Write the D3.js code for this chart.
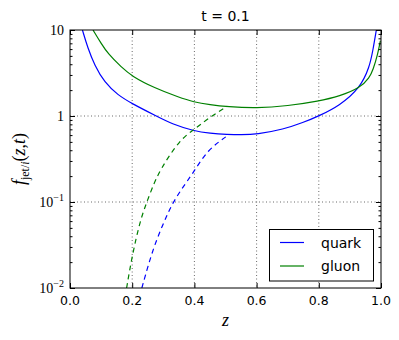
<!DOCTYPE html>
<html>
<head>
<meta charset="utf-8">
<script src="https://cdn.jsdelivr.net/npm/d3@7"></script>
<style>
  body { margin: 0; background: #fff; }
  svg { display: block; }
</style>
</head>
<body>
<svg width="399" height="340"></svg>
<script>
// values
const quarkZ = [0.040, 0.057, 0.079, 0.111, 0.154, 0.198, 0.277, 0.330, 0.398, 0.450, 0.506, 0.550, 0.600, 0.687, 0.750, 0.800, 0.867, 0.933, 0.963, 0.974, 0.985];
const quarkF = [10, 6.2, 3.9, 2.45, 1.75, 1.40, 1.0, 0.80, 0.67, 0.63, 0.61, 0.605, 0.61, 0.70, 0.84, 1.0, 1.32, 2.12, 3.7, 5.8, 10];
const gluonZ = [0.074, 0.100, 0.122, 0.165, 0.199, 0.271, 0.350, 0.398, 0.450, 0.506, 0.600, 0.700, 0.800, 0.867, 0.933, 0.963, 0.974, 0.990, 0.998];
const gluonF = [10, 7.0, 5.3, 3.7, 2.9, 2.12, 1.65, 1.45, 1.35, 1.28, 1.23, 1.31, 1.49, 1.7, 2.12, 2.8, 3.4, 5.3, 7.5];
const quarkDashZ = [0.231, 0.268, 0.307, 0.324, 0.355, 0.397, 0.441, 0.506];
const quarkDashF = [0.01, 0.030, 0.064, 0.088, 0.136, 0.22, 0.40, 0.59];
const gluonDashZ = [0.182, 0.200, 0.225, 0.241, 0.263, 0.290, 0.355, 0.398, 0.441, 0.506];
const gluonDashF = [0.01, 0.024, 0.059, 0.087, 0.143, 0.24, 0.54, 0.69, 0.92, 1.30];
const xTicks = [0, 0.2, 0.4, 0.6, 0.8, 1.0];
const yTicks = [0.01, 0.1, 1, 10];
const yTickLabels = [['10', '\u22122'], ['10', '\u22121'], ['1', ''], ['10', '']];
const series = ['quark', 'gluon'];
const COLORS = ['#0000ff', '#008000'];

const SANS = '"DejaVu Sans", sans-serif';
const SERIF = '"Liberation Serif", "DejaVu Serif", serif';
const pLeft = 70, pRight = 381, pTop = 30, pBottom = 288;
const svg = d3.select('svg');

const x = d3.scaleLinear().domain([0, 1]).range([pLeft, pRight]);
const y = d3.scaleLog().domain([0.01, 10]).range([pBottom, pTop]);

svg.append('defs').append('clipPath').attr('id', 'clip')
    .append('rect')
    .attr('x', pLeft).attr('y', pTop)
    .attr('width', pRight - pLeft).attr('height', pBottom - pTop);

// grid
const grid = svg.append('g')
    .attr('stroke', '#444')
    .attr('stroke-width', 0.8)
    .attr('stroke-dasharray', '1,2.5');
grid.selectAll('line.gx')
    .data(xTicks.slice(1, -1))
    .enter()
    .append('line')
    .attr('x1', d => x(d)).attr('x2', d => x(d))
    .attr('y1', pTop).attr('y2', pBottom);
grid.selectAll('line.gy')
    .data(yTicks.slice(1, -1))
    .enter()
    .append('line')
    .attr('x1', pLeft).attr('x2', pRight)
    .attr('y1', d => y(d)).attr('y2', d => y(d));

// curves (basis spline smooths out the reading noise)
const line = d3.line()
    .x(d => x(d[0]))
    .y(d => y(d[1]))
    .curve(d3.curveBasis);
const curves = [
    [quarkZ, quarkF, COLORS[0], null],
    [gluonZ, gluonF, COLORS[1], null],
    [quarkDashZ, quarkDashF, COLORS[0], '5,4'],
    [gluonDashZ, gluonDashF, COLORS[1], '5,4']
];
const plot = svg.append('g').attr('clip-path', 'url(#clip)');
curves.forEach(([zs, fs, color, dash]) => {
    plot.append('path')
        .attr('d', line(zs.map((z, i) => [z, fs[i]])))
        .attr('fill', 'none')
        .attr('stroke', color)
        .attr('stroke-width', 1.2)
        .attr('stroke-dasharray', dash);
});

// axes: ticks pointing inward on all four sides
const xAxisB = d3.axisTop(x).tickValues(xTicks).tickSize(5).tickFormat('');
const xAxisT = d3.axisBottom(x).tickValues(xTicks).tickSize(5).tickFormat('');
const minor = [];
[0.01, 0.1, 1].forEach(dec => {
    for (let k = 2; k <= 9; k++) minor.push(dec * k);
});
const yAxisL = d3.axisRight(y).tickValues(yTicks).tickSize(5).tickFormat('');
const yAxisR = d3.axisLeft(y).tickValues(yTicks).tickSize(5).tickFormat('');
const yMinorL = d3.axisRight(y).tickValues(minor).tickSize(2.5).tickFormat('');
const yMinorR = d3.axisLeft(y).tickValues(minor).tickSize(2.5).tickFormat('');

svg.append('g').attr('transform', `translate(0,${pBottom})`).call(xAxisB);
svg.append('g').attr('transform', `translate(0,${pTop})`).call(xAxisT);
svg.append('g').attr('transform', `translate(${pLeft},0)`).call(yAxisL);
svg.append('g').attr('transform', `translate(${pLeft},0)`).call(yMinorL);
svg.append('g').attr('transform', `translate(${pRight},0)`).call(yAxisR);
svg.append('g').attr('transform', `translate(${pRight},0)`).call(yMinorR);
svg.selectAll('.domain').remove();

svg.append('rect')
    .attr('x', pLeft).attr('y', pTop)
    .attr('width', pRight - pLeft).attr('height', pBottom - pTop)
    .attr('fill', 'none')
    .attr('stroke', '#000')
    .attr('stroke-width', 1);

// tick labels
svg.append('g').selectAll('text')
    .data(xTicks)
    .enter()
    .append('text')
    .attr('x', d => x(d))
    .attr('y', pBottom + 17)
    .attr('text-anchor', 'middle')
    .style('font-family', SANS)
    .style('font-size', '12.5px')
    .text(d => d.toFixed(1));

const yl = svg.append('g').selectAll('text')
    .data(yTicks)
    .enter()
    .append('text')
    .attr('x', 64)
    .attr('y', d => y(d) + 5)
    .attr('text-anchor', 'end')
    .style('font-family', SERIF)
    .style('font-size', '14px');
yl.append('tspan').text((d, i) => yTickLabels[i][0]);
yl.append('tspan')
    .attr('dy', -6)
    .style('font-size', '10px')
    .text((d, i) => yTickLabels[i][1]);

// title and axis labels
svg.append('text')
    .attr('x', (pLeft + pRight) / 2)
    .attr('y', 21)
    .attr('text-anchor', 'middle')
    .style('font-family', SANS)
    .style('font-size', '14px')
    .text('t = 0.1');

svg.append('text')
    .attr('x', (pLeft + pRight) / 2)
    .attr('y', 326)
    .attr('text-anchor', 'middle')
    .style('font-family', SERIF)
    .style('font-size', '18px')
    .style('font-style', 'italic')
    .text('z');

const ylab = svg.append('text')
    .attr('transform', `translate(25,${(pTop + pBottom) / 2}) rotate(-90)`)
    .attr('text-anchor', 'middle')
    .style('font-family', SERIF)
    .style('font-size', '18px');
ylab.append('tspan').style('font-style', 'italic').text('f');
ylab.append('tspan').attr('dy', 4).style('font-size', '12px').text('jet');
ylab.append('tspan').style('font-size', '12px').text('/');
ylab.append('tspan').style('font-size', '12px').style('font-style', 'italic').text('i');
ylab.append('tspan').attr('dy', -4).text('(');
ylab.append('tspan').style('font-style', 'italic').text('z');
ylab.append('tspan').text(',');
ylab.append('tspan').style('font-style', 'italic').text('t');
ylab.append('tspan').text(')');

// legend
const legend = svg.append('g').attr('id', 'legend');
legend.append('rect')
    .attr('x', 269.5).attr('y', 229.5)
    .attr('width', 104).attr('height', 51.5)
    .attr('fill', '#fff')
    .attr('stroke', '#000');
series.forEach((name, i) => {
    const ly = 242.5 + i * 23.5;
    legend.append('line')
        .attr('x1', 280).attr('x2', 304)
        .attr('y1', ly).attr('y2', ly)
        .attr('stroke', COLORS[i])
        .attr('stroke-width', 1.2);
    legend.append('text')
        .attr('x', 321)
        .attr('y', ly + 5)
        .style('font-family', SANS)
        .style('font-size', '14px')
        .text(name);
});
</script>
</body>
</html>
